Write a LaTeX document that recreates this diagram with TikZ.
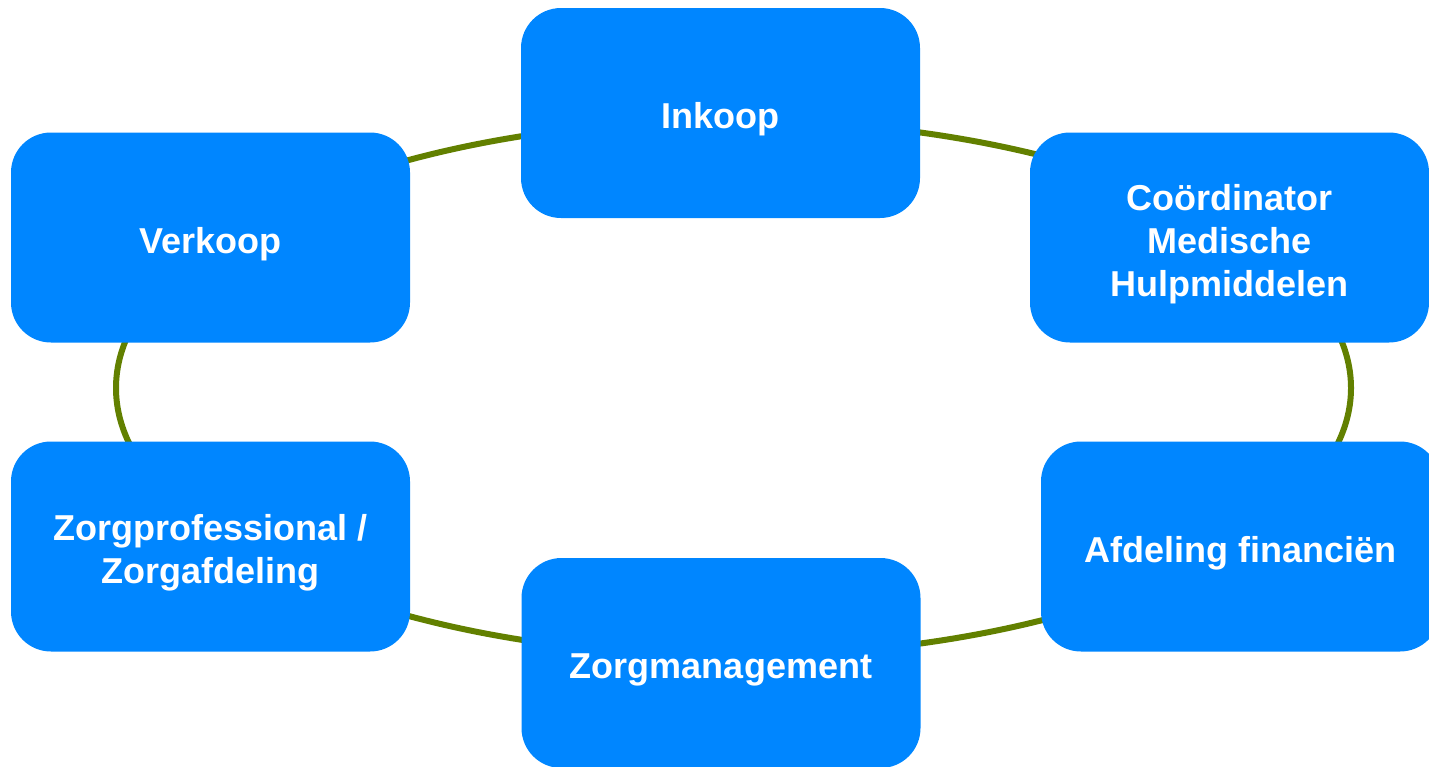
\documentclass[tikz,border=0pt]{standalone}
\usepackage{fontspec}
\setmainfont{Liberation Sans}
\definecolor{boxblue}{RGB}{0,134,255}
\definecolor{ringgreen}{RGB}{98,128,0}
\newcommand{\topstrut}{\rule{0pt}{41pt}}
\newcommand{\botstrut}{\rule[-9.5pt]{0pt}{9.5pt}}
\begin{document}
\begin{tikzpicture}[x=1pt,y=-1pt,
  unit/.style={fill=boxblue, rounded corners=40pt, minimum width=399pt, minimum height=210pt,
    inner sep=0pt, align=center, text=white, font=\fontsize{36}{43}\selectfont\bfseries},
  ring/.style={draw=ringgreen, line width=6pt}]
\useasboundingbox (0,0) rectangle (1429,766);
\begin{scope}
\clip (0,0) rectangle (1429,766);
\draw[ring] (733.5,388) ellipse [x radius=617.5pt, y radius=268pt];
\node[unit] (inkoop) at (720.5,113) {\topstrut Inkoop\botstrut};
\node[unit] (verkoop) at (210.5,237.5) {\topstrut Verkoop\botstrut};
\node[unit] (coord) at (1229.5,237.5) {\topstrut Coördinator\\Medische\\Hulpmiddelen\botstrut};
\node[unit] (zorgprof) at (210.5,546.5) {\topstrut Zorgprofessional /\\Zorgafdeling\botstrut};
\node[unit] (financien) at (1240.5,546.5) {\topstrut Afdeling financiën\botstrut};
\node[unit] (zorgman) at (721,663) {\topstrut Zorgmanagement\botstrut};
\end{scope}
\end{tikzpicture}
\end{document}
